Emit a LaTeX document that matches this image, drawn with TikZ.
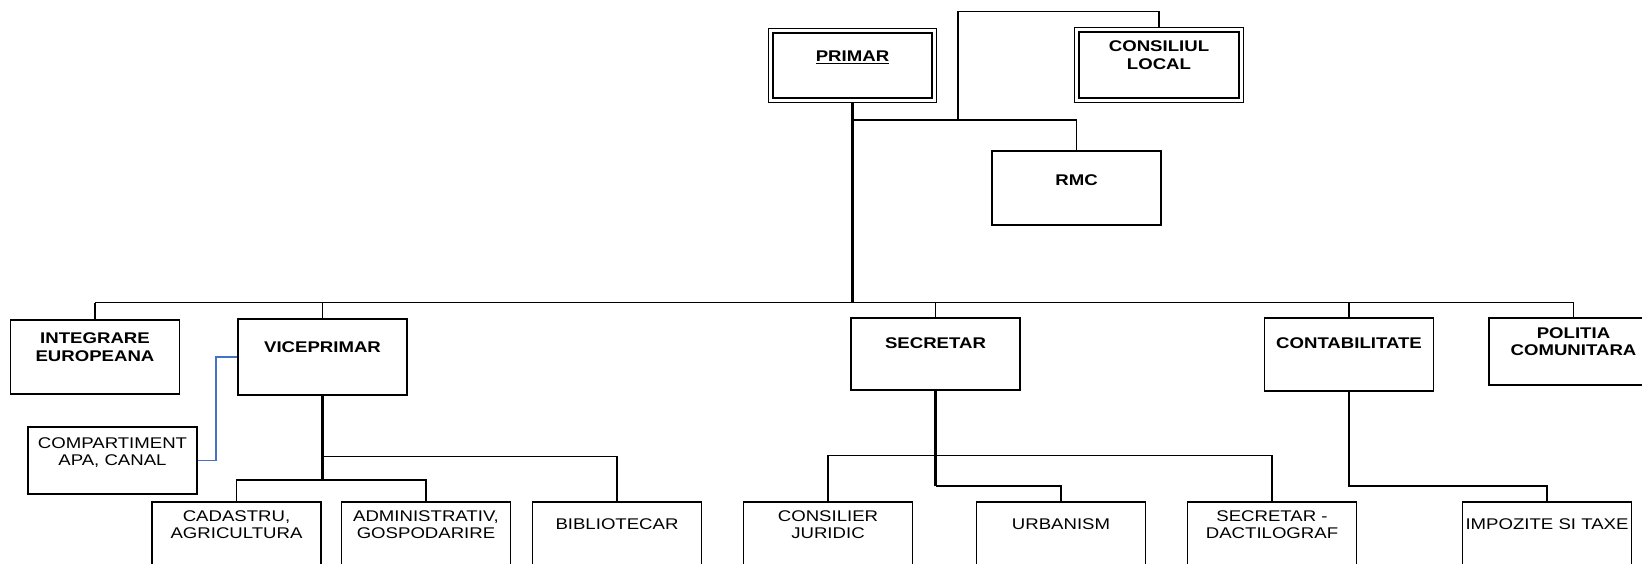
\documentclass[tikz,border=0pt]{standalone}
\usepackage{fontspec}
\setmainfont{Liberation Sans}[FakeStretch=1.2]
\usetikzlibrary{backgrounds}
\definecolor{linkblue}{RGB}{68,114,196}
\begin{document}
\begin{tikzpicture}[x=1pt,y=-1pt,
  bx/.style={draw, line width=1.5pt, inner sep=0pt, outer sep=0pt, minimum width=169pt, anchor=north west},
  dbx/.style={draw, line width=1.2pt, double, double distance=3.2pt, inner sep=0pt, outer sep=0pt, anchor=north west},
  tb/.style={font=\bfseries\fontsize{15.5}{17.5}\selectfont, align=center, inner sep=0pt},
  tr/.style={font=\fontsize{15.5}{17.5}\selectfont, align=center, inner sep=0pt},
  ln/.style={line width=1.7pt},
  trunk/.style={line width=2.3pt},
  blueln/.style={line width=1.6pt, draw=linkblue}]
\useasboundingbox (0,0) rectangle (1642,563);
\clip (0,0) rectangle (1642,563);
% boxes
\node[dbx, minimum width=163.4pt, minimum height=69.4pt] (prim) at (770.8,30.8) {};
\node[dbx, minimum width=164.4pt, minimum height=70.4pt] (cl) at (1076.8,29.8) {};
\node[bx, minimum height=74pt] (rmc) at (992,151) {};
\node[bx, minimum height=74pt] (integ) at (10.5,320) {};
\node[bx, minimum height=76pt] (vice) at (238,319) {};
\node[bx, minimum height=72pt] (sec) at (851,318) {};
\node[bx, minimum height=73pt] (cont) at (1264.5,318) {};
\node[bx, minimum height=67pt] (pol) at (1489,318) {};
\node[bx, minimum height=67pt] (comp) at (28,427) {};
\node[bx, minimum height=80pt] (cad) at (152,502) {};
\node[bx, minimum height=80pt] (adm) at (341.5,502) {};
\node[bx, minimum height=80pt] (bib) at (532.5,502) {};
\node[bx, minimum height=80pt] (cons) at (743.5,502) {};
\node[bx, minimum height=80pt] (urb) at (976.5,502) {};
\node[bx, minimum height=80pt] (sdac) at (1187.5,502) {};
\node[bx, minimum height=80pt] (imp) at (1462.5,502) {};
% texts
\node[tb] (tprim) at ([yshift=-26.2pt]prim.north) {\underline{PRIMAR}};
\node[tb] (tcl) at ([yshift=-25.2pt]cl.north) {CONSILIUL\\LOCAL};
\node[tb] (trmc) at ([yshift=-29pt]rmc.north) {RMC};
\node[tb] (tinteg) at ([yshift=-27pt]integ.north) {INTEGRARE\\EUROPEANA};
\node[tb] (tvice) at ([yshift=-28pt]vice.north) {VICEPRIMAR};
\node[tb] (tsec) at ([yshift=-25pt]sec.north) {SECRETAR};
\node[tb] (tcont) at ([yshift=-25.5pt]cont.north) {CONTABILITATE};
\node[tb] (tpol) at ([yshift=-23.5pt]pol.north) {POLITIA\\COMUNITARA};
\node[tr] (tcomp) at ([yshift=-25.5pt]comp.north) {COMPARTIMENT\\APA, CANAL};
\node[tr] (tcad) at ([yshift=-22.5pt]cad.north) {CADASTRU,\\AGRICULTURA};
\node[tr] (tadm) at ([yshift=-22.5pt]adm.north) {ADMINISTRATIV,\\GOSPODARIRE};
\node[tr] (tbib) at ([yshift=-22.5pt]bib.north) {BIBLIOTECAR};
\node[tr] (tcons) at ([yshift=-22.5pt]cons.north) {CONSILIER\\JURIDIC};
\node[tr] (turb) at ([yshift=-22.5pt]urb.north) {URBANISM};
\node[tr] (tsdac) at ([yshift=-22.5pt]sdac.north) {SECRETAR -\\DACTILOGRAF};
\node[tr] (timp) at ([yshift=-22.5pt]imp.north) {IMPOZITE SI TAXE};
% helper coordinates
\coordinate (jt) at (958,120);
\coordinate (ctop) at (1159,11.5);
\coordinate (busy) at (0,302.5);
\coordinate (vA) at (0,456.6);
\coordinate (vB) at (0,480);
\coordinate (sA) at (0,455.5);
\coordinate (sB) at (0,486);
\begin{scope}[on background layer]
\draw[trunk] (prim.south) -- (prim.south |- busy);
\draw[ln] (prim.south |- jt) -| (rmc.north);
\draw[ln] (jt) |- (ctop) -- (cl.north);
\draw[ln] (integ.north |- busy) -- (pol.north |- busy);
\draw[ln] (integ.north) -- (integ.north |- busy);
\draw[ln] (vice.north) -- (vice.north |- busy);
\draw[ln] (sec.north) -- (sec.north |- busy);
\draw[ln] (cont.north) -- (cont.north |- busy);
\draw[ln] (pol.north) -- (pol.north |- busy);
\draw[blueln] (comp.east) -- ++(19,0) |- (vice.west);
\draw[trunk] (vice.south) -- (vice.south |- vB);
\draw[ln] (vice.south |- vA) -| (bib.north);
\draw[ln] (cad.north) -- (cad.north |- vB) -| (adm.north);
\draw[trunk] (sec.south) -- (sec.south |- sB);
\draw[ln] (cons.north) -- (cons.north |- sA) -| (sdac.north);
\draw[ln] (sec.south |- sB) -| (urb.north);
\draw[ln] (cont.south) -- (cont.south |- sB) -| (imp.north);
\end{scope}
\end{tikzpicture}
\end{document}
